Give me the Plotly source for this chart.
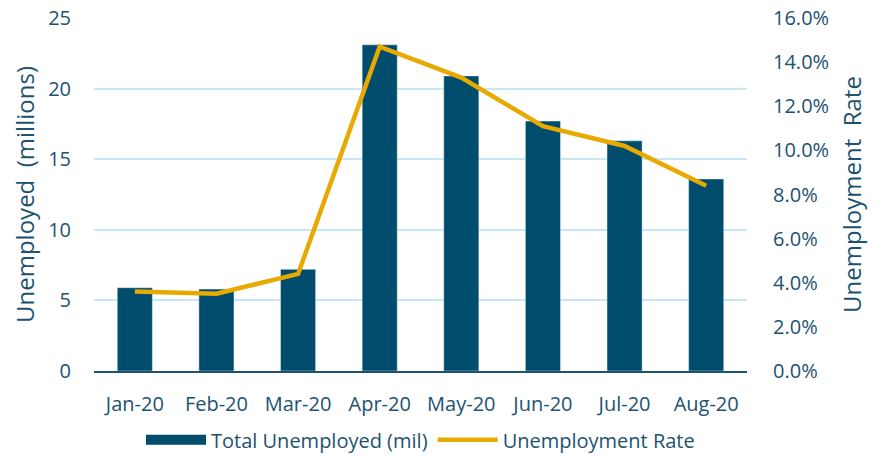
import plotly.graph_objects as go

# Dados mensais de 2020
meses = ["Jan-20", "Feb-20", "Mar-20", "Apr-20", "May-20", "Jun-20", "Jul-20", "Aug-20"]
desempregados = [5.9, 5.8, 7.2, 23.1, 20.9, 17.7, 16.3, 13.6]  # milhões
taxa_desemprego = [3.6, 3.5, 4.4, 14.7, 13.3, 11.1, 10.2, 8.4]  # %

cor_texto = "#1d5271"
cor_barra = "#004c6d"
fonte = "Open Sans"

fig = go.Figure()

fig.add_trace(go.Bar(
    x=meses,
    y=desempregados,
    marker_color=cor_barra,
    width=0.43,
    name="Total Unemployed (mil)",
    showlegend=False,
    yaxis="y"
))

# entrada de legenda em forma de retângulo largo (como no Excel)
fig.add_trace(go.Scatter(
    x=[None], y=[None],
    mode="lines",
    line=dict(color=cor_barra, width=14),
    name="Total Unemployed (mil)",
    yaxis="y"
))

fig.add_trace(go.Scatter(
    x=meses,
    y=taxa_desemprego,
    mode="lines",
    line=dict(color="#e8a900", width=4.5),
    name="Unemployment Rate",
    yaxis="y2"
))

fig.update_layout(
    width=886,
    height=456,
    margin=dict(l=94, r=139, t=18, b=85, autoexpand=False),
    plot_bgcolor="white",
    paper_bgcolor="white",
    font=dict(family=fonte, size=20, color=cor_texto),
    xaxis=dict(
        showgrid=False,
        showline=True,
        linecolor=cor_texto,
        linewidth=2,
        ticks="",
        ticklabelstandoff=14,
    ),
    yaxis=dict(
        title=dict(text="Unemployed  (millions)", standoff=6),
        range=[0, 25],
        dtick=5,
        gridcolor="#c6e8f6",
        gridwidth=2,
        zeroline=False,
        ticks="",
        ticklabelstandoff=22,
        ticklabeloverflow="allow",
    ),
    yaxis2=dict(
        title=dict(text="Unemployment  Rate", standoff=16),
        overlaying="y",
        side="right",
        range=[0, 16],
        dtick=2,
        tickformat=".1f",
        ticksuffix="%",
        showgrid=False,
        zeroline=False,
        ticks="",
        ticklabelstandoff=25,
        ticklabeloverflow="allow",
    ),
    legend=dict(
        orientation="h",
        x=0.5,
        xanchor="center",
        y=-0.195,
        yanchor="middle",
        font=dict(size=20),
        bgcolor="rgba(0,0,0,0)",
        itemwidth=60,
        tracegroupgap=0,
    ),
    showlegend=True,
)

# tira a margem padrão do body para a figura ocupar a janela toda
fig.write_html("out.html", config={"displayModeBar": False},
               post_script="document.body.style.margin = '0';")
